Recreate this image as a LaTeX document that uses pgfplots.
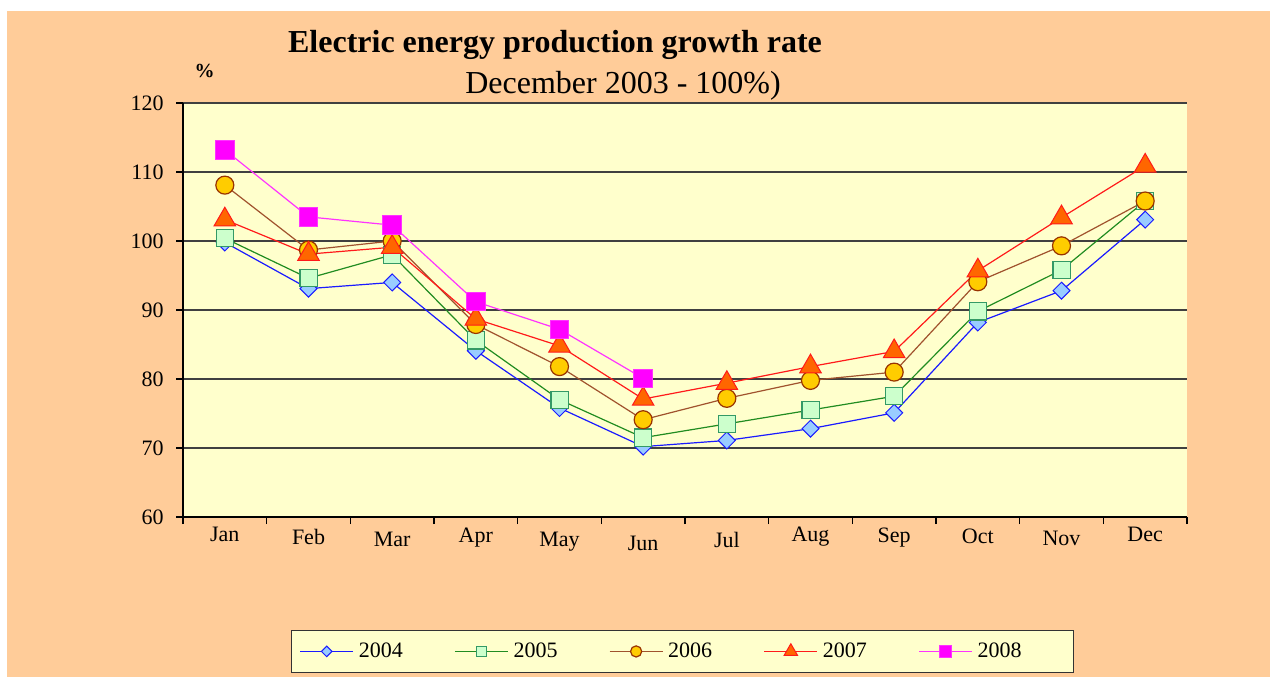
\documentclass[border=0pt]{standalone}
\usepackage{fontspec}
\setmainfont{Liberation Serif}
\usepackage{pgfplots}
\pgfplotsset{compat=1.18}
\definecolor{peach}{HTML}{FFCC99}
\definecolor{plotbg}{HTML}{FFFFCC}
\definecolor{lA}{HTML}{1A1AFF}\definecolor{fA}{HTML}{99CCFF}
\definecolor{lB}{HTML}{218C21}\definecolor{eB}{HTML}{339966}\definecolor{fB}{HTML}{CCFFCC}
\definecolor{lC}{HTML}{A0522D}\definecolor{eC}{HTML}{993300}\definecolor{fC}{HTML}{FFCC00}
\definecolor{lD}{HTML}{FF1A1A}\definecolor{fD}{HTML}{FF6600}
\definecolor{lE}{HTML}{FF33FF}\definecolor{fE}{HTML}{FF00FF}
\begin{document}
\begin{tikzpicture}
\useasboundingbox (0,0) rectangle (635pt,338.5pt);
\fill[white] (0,0) rectangle (635pt,338.5pt);
\fill[peach] (3.5pt,0) rectangle (635pt,333pt);
\node[anchor=base, font=\bfseries\fontsize{16}{19}\selectfont] at (277.5pt,312.5pt) {Electric energy production growth rate};
\node[anchor=base, font=\fontsize{16}{19}\selectfont] at (311.5pt,292pt) {December 2003 - 100\%)};
\node[anchor=base, font=\bfseries\fontsize{10}{12}\selectfont] at (102.25pt,300pt) {\%};
\begin{axis}[
  at={(91.5pt,80pt)}, anchor=south west, scale only axis,
  width=502pt, height=207pt,
  xmin=-0.5, xmax=11.5, ymin=60, ymax=120,
  axis x line*=bottom, axis y line*=left,
  axis line style={line width=0.6pt, black},
  axis background/.style={fill=plotbg},
  ytick={60,70,...,120}, ymajorgrids,
  grid style={black!75, line width=0.6pt},
  xtick={-0.5,0.5,1.5,2.5,3.5,4.5,5.5,6.5,7.5,8.5,9.5,10.5,11.5}, xticklabels={},
  extra x ticks={0,1,2,3,4,5,6,7,8,9,10,11},
  extra x tick labels={Jan,\raisebox{-1.2pt}{Feb},\raisebox{-2.2pt}{Mar},\raisebox{-0.2pt}{Apr},\raisebox{-2.2pt}{May},\raisebox{-4.2pt}{Jun},\raisebox{-2.7pt}{Jul},Aug,\raisebox{-0.5pt}{Sep},\raisebox{-0.7pt}{Oct},\raisebox{-1.7pt}{Nov},\raisebox{0.3pt}{Dec}},
  extra x tick style={major tick length=0pt},
  xticklabel style={anchor=base, yshift=-12.35pt, inner sep=0pt},
  yticklabel style={anchor=east, inner sep=0pt, xshift=-6pt},
  tick align=outside, major tick length=3.5pt,
  tick style={black, line width=0.6pt},
  tick label style={font=\fontsize{11}{13}\selectfont},
  /pgf/number format/assume math mode=true,
  legend columns=5,
  legend image code/.code={\draw[mark repeat=2, mark phase=2, #1, every mark/.append style={scale=0.62}] plot coordinates {(0pt,0pt) (13.25pt,0pt) (26.5pt,0pt)};},
  legend style={at={(0.1076,-0.273)}, anchor=north west, fill=plotbg, draw=black!80, line width=0.6pt,
    inner xsep=4pt, inner ysep=6pt, font=\fontsize{11}{13}\selectfont,
    nodes={inner sep=0pt},
    /tikz/every odd column/.append style={column sep=2.5pt},
    /tikz/every even column/.append style={column sep=25.75pt}},
]
\addplot[color=lA, line width=0.6pt, mark=square*, mark size=3pt, mark options={rotate=45, fill=fA, draw=lA, line width=0.5pt}]
 coordinates {(0,99.8) (1,93.1) (2,94.0) (3,84.1) (4,75.8) (5,70.2) (6,71.1) (7,72.8) (8,75.1) (9,88.2) (10,92.8) (11,103.1)};
\addlegendentry{2004}
\addplot[color=lB, line width=0.6pt, mark=square*, mark size=4.3pt, mark options={fill=fB, draw=eB, line width=0.6pt}]
 coordinates {(0,100.4) (1,94.6) (2,98.0) (3,85.6) (4,77.0) (5,71.5) (6,73.5) (7,75.5) (8,77.5) (9,89.8) (10,95.8) (11,105.8)};
\addlegendentry{2005}
\addplot[color=lC, line width=0.6pt, mark=*, mark size=4.5pt, mark options={fill=fC, draw=eC, line width=0.6pt}]
 coordinates {(0,108.1) (1,98.7) (2,100.0) (3,87.9) (4,81.8) (5,74.1) (6,77.2) (7,79.8) (8,81.0) (9,94.1) (10,99.3) (11,105.8)};
\addlegendentry{2006}
\addplot[color=lD, line width=0.6pt, mark=triangle*, mark size=6.2pt, mark options={fill=fD, draw=lD, line width=0.5pt}]
 coordinates {(0,103.1) (1,98.1) (2,99.1) (3,88.7) (4,84.8) (5,77.1) (6,79.4) (7,81.8) (8,84.0) (9,95.7) (10,103.4) (11,110.9)};
\addlegendentry{2007}
\addplot[color=lE, line width=0.6pt, mark=square*, mark size=4.6pt, mark options={fill=fE, draw=lE, line width=0.5pt}]
 coordinates {(0,113.2) (1,103.5) (2,102.3) (3,91.2) (4,87.2) (5,80.1)};
\addlegendentry{2008\hspace*{22pt}\mbox{}}
\end{axis}
\end{tikzpicture}
\end{document}
